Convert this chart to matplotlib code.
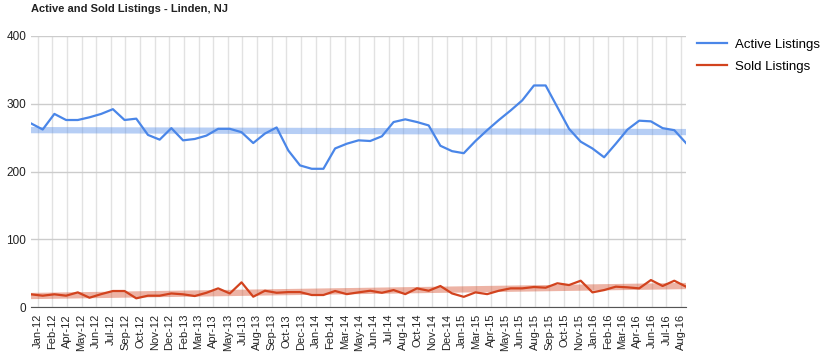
import matplotlib
matplotlib.use("Agg")
import matplotlib.pyplot as plt
import numpy as np

plt.rcParams['font.family'] = ['Liberation Sans', 'DejaVu Sans']

# monthly values, Jan-12 .. Sep-16
active = [271, 262, 285, 276, 276, 280, 285, 292, 276, 278, 254, 247,
          264, 246, 248, 253, 263, 263, 258, 242, 256, 265, 231, 209,
          204, 204, 234, 241, 246, 245, 252, 273, 277, 273, 268, 238,
          230, 227, 245, 261, 276, 290, 305, 327, 327, 295, 263, 244,
          234, 221, 241, 262, 275, 274, 264, 261, 242]
sold = [18.7, 16.7, 18.7, 16.7, 21.6, 13.7, 19, 23.6, 23.6, 12.8, 16.7, 16.7,
        20, 18.7, 16.2, 21, 27.5, 20, 36.4, 15.2, 24, 21, 22, 22,
        17.7, 17.7, 23.6, 19, 21.6, 24, 21, 25, 19, 27.5, 24, 31,
        20, 15, 21.6, 19, 24, 27.5, 27.5, 29.5, 28.5, 35, 32.4, 38.8,
        21.6, 25, 30, 29, 27.5, 39.8, 31, 38.8, 30]

tick_labels = ["Jan-12", "Feb-12", "Apr-12", "May-12", "Jun-12", "Jul-12", "Sep-12",
               "Oct-12", "Nov-12", "Dec-12", "Feb-13", "Mar-13", "Apr-13", "May-13",
               "Jul-13", "Aug-13", "Sep-13", "Oct-13", "Dec-13", "Jan-14", "Feb-14",
               "Mar-14", "May-14", "Jun-14", "Jul-14", "Aug-14", "Oct-14", "Nov-14",
               "Dec-14", "Jan-15", "Mar-15", "Apr-15", "May-15", "Jun-15", "Aug-15",
               "Sep-15", "Oct-15", "Nov-15", "Jan-16", "Feb-16", "Mar-16", "Apr-16",
               "Jun-16", "Jul-16", "Aug-16"]

blue = "#4a86e8"
red = "#d2431e"

x = np.arange(len(active))
ticks = 0.575 + 1.25 * np.arange(len(tick_labels))

fig = plt.figure(figsize=(8.31, 3.6), dpi=100)
ax = fig.add_axes([31/831, 1-307/360, (686-31)/831, (307-36)/360])

# trend lines
pa = np.polyfit(x, active, 1)
ps = np.polyfit(x, sold, 1)
ax.plot(x, np.polyval(pa, x), color=blue, alpha=0.4, lw=4.5, solid_capstyle='butt')
ax.plot(x, np.polyval(ps, x), color=red, alpha=0.4, lw=4.5, solid_capstyle='butt')

ax.plot(x, active, color=blue, lw=1.6, label="Active Listings")
ax.plot(x, sold, color=red, lw=1.6, label="Sold Listings")

ax.set_xlim(0, len(active) - 1)
ax.set_ylim(0, 400)
ax.set_yticks([0, 100, 200, 300, 400])
ax.set_xticks(ticks)
ax.set_xticklabels(tick_labels, rotation=90, fontsize=8, color="#222222")
ax.tick_params(axis='y', labelsize=8.5, labelcolor="#222222")
ax.tick_params(length=0)
ax.tick_params(axis='x', pad=5)

ax.grid(axis='y', color="#cccccc", lw=1)
for t in ticks:
    ax.axvline(t, color="#e2e2e2", lw=1, zorder=0)
ax.set_axisbelow(True)
for s in ["top", "right", "left"]:
    ax.spines[s].set_visible(False)
ax.spines["bottom"].set_color("#555555")

fig.text(31/831, 1-9/360, "Active and Sold Listings - Linden, NJ", fontsize=8,
         fontweight='bold', color="#222222", va='center')

fig.legend(loc='upper left', bbox_to_anchor=(690/831, 1-32/360),
           frameon=False, fontsize=9.5, handlelength=2.3, labelspacing=0.72,
           borderpad=0, handletextpad=0.6)

fig.savefig("out.png", dpi=100)
